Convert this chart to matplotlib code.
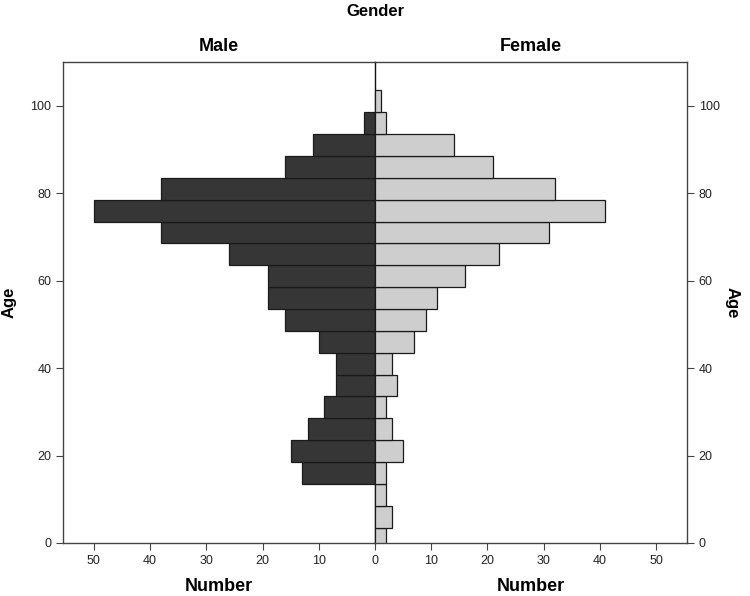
import numpy as np
import matplotlib
matplotlib.use('Agg')
import matplotlib.pyplot as plt

plt.rcParams['font.family'] = ['Liberation Sans', 'DejaVu Sans']

# age bins are 5 years wide, centred on 1, 6, 11, ... 101
age_centres = np.arange(1, 102, 5)
male = [0, 0, 0, 13, 15, 12, 9, 7, 7, 10, 16, 19, 19, 26, 38, 50, 38, 16, 11, 2, 0]
female = [2, 3, 2, 2, 5, 3, 2, 4, 3, 7, 9, 11, 16, 22, 31, 41, 32, 21, 14, 2, 1]
x_ticks = [0, 10, 20, 30, 40, 50]
age_ticks = [0, 20, 40, 60, 80, 100]

fig = plt.figure(figsize=(7.5, 5.96), dpi=100)
ax_m = fig.add_axes([0.084, 0.089, 0.416, 0.807])
ax_f = fig.add_axes([0.500, 0.089, 0.416, 0.807])
ax_f.patch.set_visible(False)

ax_m.barh(age_centres, male, height=5, color='#363636', edgecolor='#1a1a1a', lw=0.9)
ax_f.barh(age_centres, female, height=5, color='#cecece', edgecolor='#1a1a1a', lw=0.9)

for ax in (ax_m, ax_f):
    ax.set_xlim(0, 55.5)
    ax.set_ylim(0, 110)
    ax.set_xticks(x_ticks)
    ax.set_yticks(age_ticks)
    ax.tick_params(labelsize=9, length=5, color='#444444', labelcolor='#222222')
    for sp in ax.spines.values():
        sp.set_color('#444444')
        sp.set_linewidth(1.0)
    ax.set_xlabel('Number', fontsize=13, fontweight='bold', labelpad=8)

ax_m.invert_xaxis()
ax_m.spines['right'].set_color('#111111')
ax_m.spines['right'].set_zorder(5)
ax_f.spines['left'].set_visible(False)
ax_f.tick_params(axis='y', left=False, labelleft=False, right=True, labelright=True)
ax_f.set_xticks(x_ticks[1:])

ax_m.set_ylabel('Age', fontsize=12, fontweight='bold', labelpad=10)
ax_f.yaxis.set_label_position('right')
ax_f.set_ylabel('Age', fontsize=12, fontweight='bold', labelpad=14, rotation=-90)

ax_m.set_title('Male', fontsize=13, fontweight='bold', pad=8)
ax_f.set_title('Female', fontsize=13, fontweight='bold', pad=8)
fig.text(0.5, 0.993, 'Gender', ha='center', va='top', fontsize=12, fontweight='bold')

fig.savefig('out.png', dpi=100)
